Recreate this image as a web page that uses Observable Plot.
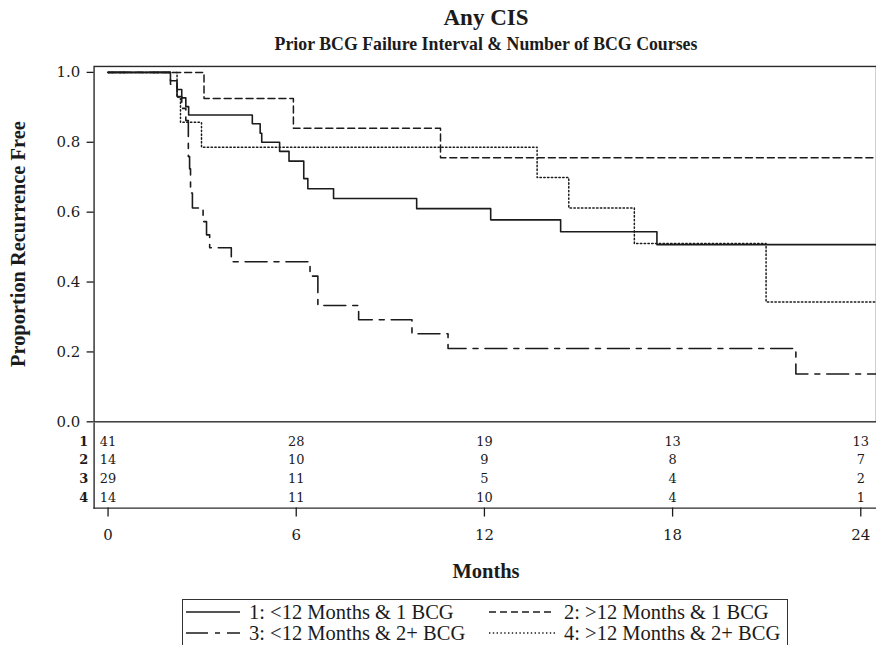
<!DOCTYPE html>
<html><head><meta charset="utf-8">
<script src="https://cdn.jsdelivr.net/npm/d3@7"></script>
<script src="https://cdn.jsdelivr.net/npm/@observablehq/plot@0.6"></script>
<style>
html,body{margin:0;padding:0;background:#fff;overflow:hidden;}
#wrap{position:relative;width:876px;height:645px;overflow:hidden;color:#1b1b1b;}
.abs{position:absolute;}
#title{left:94px;width:784px;top:5px;text-align:center;font:bold 23px "Liberation Serif";line-height:26px;}
#subtitle{left:94px;width:784px;top:35px;text-align:center;font:bold 17.8px "Liberation Serif";line-height:18px;}
#xlabel{left:94px;width:784px;top:559px;text-align:center;font:bold 20.5px "Liberation Serif";line-height:24px;}
#legend{left:182px;top:599px;width:606px;height:60px;border:1.5px solid #333;box-sizing:border-box;font:20.5px "Liberation Serif";}
.item{position:absolute;height:20px;line-height:20px;white-space:nowrap;display:flex;align-items:center;}
.item svg{display:block;margin-right:9px;}
svg.plot{display:block;}
</style></head>
<body><div id="wrap">
<div id="title" class="abs"></div>
<div id="subtitle" class="abs"></div>
<div id="p1" class="abs" style="left:0;top:56px;"></div>
<div id="p2" class="abs" style="left:0;top:423px;"></div>
<div id="xlabel" class="abs"></div>
<div id="legend" class="abs"></div>
</div>
<script>
// ---- text ----
const titleText = "Any CIS";
const subtitleText = "Prior BCG Failure Interval & Number of BCG Courses";
const yLabel = "Proportion Recurrence Free";
const xLabel = "Months";
const groupIds = ["1", "2", "3", "4"];
const groupLabels = ["1: <12 Months & 1 BCG", "2: >12 Months & 1 BCG", "3: <12 Months & 2+ BCG", "4: >12 Months & 2+ BCG"];

// ---- axes ----
const monthTicks = [0, 6, 12, 18, 24];
const yTicks = [0, 0.2, 0.4, 0.6, 0.8, 1.0];
const followUpEnd = 24.5;

// ---- Kaplan-Meier step data ----
const g1Time = [0, 1.99, 2.2, 2.35, 2.48, 2.57, 4.6, 4.85, 4.9, 5.47, 5.77, 6.24, 6.37, 7.19, 9.84, 12.2, 14.43, 17.5];
const g1Surv = [1, 0.976, 0.951, 0.927, 0.902, 0.878, 0.853, 0.826, 0.80, 0.774, 0.746, 0.696, 0.667, 0.639, 0.610, 0.578, 0.544, 0.507];
const g2Time = [0, 3.06, 5.91, 10.6];
const g2Surv = [1, 0.925, 0.84, 0.756];
const g3Time = [0, 1.99, 2.2, 2.35, 2.48, 2.56, 2.6, 2.63, 2.69, 3.03, 3.14, 3.24, 3.93, 6.44, 6.69, 7.99, 9.69, 10.84, 21.93];
const g3Surv = [1, 0.966, 0.931, 0.897, 0.862, 0.759, 0.724, 0.655, 0.612, 0.573, 0.535, 0.498, 0.458, 0.417, 0.333, 0.292, 0.252, 0.21, 0.137];
const g4Time = [0, 2.2, 2.31, 2.98, 13.68, 14.69, 16.78, 20.98];
const g4Surv = [1, 0.929, 0.857, 0.786, 0.699, 0.612, 0.51, 0.343];

// ---- number at risk ----
const atRisk1 = [41, 28, 19, 13, 13];
const atRisk2 = [14, 10, 9, 8, 7];
const atRisk3 = [29, 11, 5, 4, 2];
const atRisk4 = [14, 11, 10, 4, 1];

// ---- styles ----
const ink = "#1b1b1b";
const dashStyles = [null, "7,4", "22,7,5,7", "1.4,2.4"];
const widths = [1.6, 1.5, 1.6, 1.5];

const steps = (t, s) => t.map((d, i) => ({t: d, s: s[i]})).concat([{t: followUpEnd, s: s[s.length - 1]}]);
const series = [steps(g1Time, g1Surv), steps(g2Time, g2Surv), steps(g3Time, g3Surv), steps(g4Time, g4Surv)];
const riskRows = [atRisk1, atRisk2, atRisk3, atRisk4].flatMap((arr, gi) => arr.map((n, i) => ({t: monthTicks[i], g: groupIds[gi], n})));

const xDomain = [-0.445, followUpEnd];

document.getElementById("title").textContent = titleText;
document.getElementById("subtitle").textContent = subtitleText;
document.getElementById("xlabel").textContent = xLabel;

const p1 = Plot.plot({
  width: 880, height: 368,
  marginLeft: 94, marginRight: 0, marginTop: 10, marginBottom: 1,
  style: {fontFamily: "DejaVu Serif", fontSize: "14.5px", color: ink, background: "transparent", overflow: "visible"},
  x: {domain: xDomain, axis: null},
  y: {domain: [0, 1.017]},
  marks: [
    Plot.frame({stroke: "#2a2a2a", strokeWidth: 1.4}),
    Plot.axisY({ticks: yTicks, tickFormat: d3.format(".1f"), tickSize: 7, tickPadding: 7, fontSize: 15, fontFamily: "DejaVu Serif", label: null, strokeWidth: 1.3}),
    ...series.map((d, i) => Plot.line(d, {x: "t", y: "s", curve: "step-after", stroke: ink, strokeWidth: widths[i], strokeDasharray: dashStyles[i] || undefined})),
    Plot.text([yLabel], {frameAnchor: "left", textAnchor: "middle", dx: -76, rotate: -90, fontSize: 20.5, fontWeight: "bold", fontFamily: "Liberation Serif", fill: ink})
  ]
});
document.getElementById("p1").appendChild(p1);

const p2 = Plot.plot({
  width: 880, height: 125,
  marginLeft: 94, marginRight: 0, marginTop: 0, marginBottom: 40,
  style: {fontFamily: "DejaVu Serif", fontSize: "14.5px", color: ink, background: "transparent", overflow: "visible"},
  x: {domain: xDomain},
  y: {type: "point", domain: groupIds, range: [18, 75], padding: 0},
  marks: [
    Plot.frame({anchor: "left", stroke: "#2a2a2a", strokeWidth: 1.4}),
    Plot.frame({anchor: "bottom", stroke: "#2a2a2a", strokeWidth: 1.4}),
    Plot.axisX({ticks: monthTicks, tickSize: 9, tickPadding: 12, fontSize: 15, fontFamily: "DejaVu Serif", label: null, strokeWidth: 1.3}),
    Plot.axisY({tickSize: 0, tickPadding: 6, fontSize: 13, fontWeight: "bold", fontFamily: "DejaVu Serif", label: null}),
    Plot.text(riskRows, {x: "t", y: "g", text: "n", fontSize: 13, fontFamily: "DejaVu Serif", fill: ink})
  ]
});
document.getElementById("p2").appendChild(p2);

// ---- legend ----
const legend = document.getElementById("legend");
const pos = [[3, 2], [306, 2], [3, 23], [306, 23]];
groupLabels.forEach((lab, i) => {
  const item = document.createElement("div");
  item.className = "item";
  item.style.left = pos[i][0] + "px";
  item.style.top = pos[i][1] + "px";
  const sw = i % 2 === 0 ? 54 : 66;
  const ns = "http://www.w3.org/2000/svg";
  const s = document.createElementNS(ns, "svg");
  s.setAttribute("width", sw); s.setAttribute("height", 10);
  const l = document.createElementNS(ns, "line");
  l.setAttribute("x1", 0); l.setAttribute("x2", sw); l.setAttribute("y1", 5); l.setAttribute("y2", 5);
  l.setAttribute("stroke", ink); l.setAttribute("stroke-width", widths[i]);
  if (dashStyles[i]) l.setAttribute("stroke-dasharray", dashStyles[i]);
  s.appendChild(l);
  item.appendChild(s);
  const t = document.createElement("span");
  t.textContent = lab;
  item.appendChild(t);
  legend.appendChild(item);
});
</script>
</body></html>
